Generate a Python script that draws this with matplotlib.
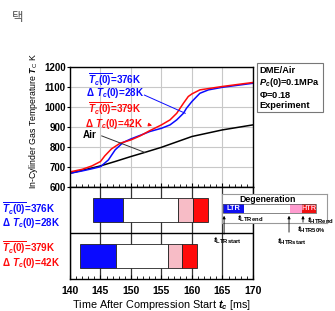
import matplotlib
matplotlib.use('Agg')
import matplotlib.pyplot as plt
from matplotlib.ticker import MultipleLocator

plt.rcParams['font.family'] = ['Liberation Sans', 'DejaVu Sans']
plt.rcParams['font.weight'] = 'bold'
plt.rcParams['mathtext.fontset'] = 'custom'
plt.rcParams['mathtext.rm'] = 'Liberation Sans:bold'
plt.rcParams['mathtext.it'] = 'Liberation Sans:italic:bold'
plt.rcParams['mathtext.bf'] = 'Liberation Sans:bold'

# in-cylinder temperature traces
time_blue = [140, 142, 143.5, 145, 146.3, 147.4, 148.7, 150, 151.7, 153.1, 155,
             156.4, 157.5, 158.6, 159.1, 160, 161.3, 162.7, 165, 170]
temp_blue = [668, 680, 690, 701, 735, 785, 822, 840, 860, 877, 893,
             910, 935, 968, 993, 1027, 1068, 1085, 1098, 1118]
time_red = [140, 142, 143.6, 145, 145.7, 146.8, 148.2, 150, 151.5, 153, 155,
            156.4, 157.5, 158.6, 159.4, 160, 161.3, 165, 170]
temp_red = [675, 688, 705, 727, 755, 790, 818, 835, 855, 880, 910,
            935, 968, 1018, 1052, 1065, 1085, 1102, 1122]
time_air = [140, 145, 147.4, 150, 152, 155, 160, 165, 170]
temp_air = [668, 705, 727, 752, 770, 798, 852, 885, 910]

# degeneration timings [ms]: upper row (376K), lower row (379K)
rows = [1.5, 0.5]
ltr_start = [143.8, 141.6]
ltr_end = [148.7, 147.5]
htr_start = [157.7, 156.0]
htr_50 = [160.2, 158.4]
htr_end = [162.6, 160.9]

c_blue = '#0a0aff'
c_red = '#ff0a0a'
c_pink = '#f7bcc6'

fig = plt.figure(figsize=(3.35, 3.11), dpi=100)
ax1 = fig.add_axes([0.209, 0.399, 0.546, 0.386])
ax2 = fig.add_axes([0.209, 0.103, 0.546, 0.296])

# --- top panel ---
ax1.plot(time_air, temp_air, color='black', lw=1.1)
ax1.plot(time_blue, temp_blue, color=c_blue, lw=1.1)
ax1.plot(time_red, temp_red, color=c_red, lw=1.1)
ax1.set_xlim(140, 170)
ax1.set_ylim(600, 1200)
ax1.xaxis.set_major_locator(MultipleLocator(5))
ax1.xaxis.set_minor_locator(MultipleLocator(1))
ax1.yaxis.set_major_locator(MultipleLocator(100))
ax1.grid(True, color='#c8c8c8', lw=0.8)
ax1.tick_params(axis='x', which='both', direction='in', labelbottom=False)
ax1.tick_params(axis='x', which='major', length=3)
ax1.tick_params(axis='x', which='minor', length=2)
ax1.tick_params(axis='y', length=2, labelsize=7, pad=1)
for s in ax1.spines.values():
    s.set_linewidth(1.0)

fs = 7.1
ax1.text(142.9, 1137, r'$\overline{T_c(0)}$=376K', color=c_blue, fontsize=fs,
         va='center')
ax1.text(142.6, 1067, r'$\Delta\ T_c(0)$=28K', color=c_blue, fontsize=fs,
         va='center')
ax1.plot([152.2, 158.9], [1059, 968], color=c_blue, lw=0.7)
ax1.text(142.9, 992, r'$\overline{T_c(0)}$=379K', color=c_red, fontsize=fs,
         va='center')
ax1.text(142.5, 915, r'$\Delta\ T_c(0)$=42K', color=c_red, fontsize=fs,
         va='center')
ax1.annotate('', xy=(153.9, 903), xytext=(152.4, 915),
             arrowprops=dict(arrowstyle='-|>', color=c_red, lw=0.7,
                             mutation_scale=5))
ax1.text(142.1, 858, 'Air', color='black', fontsize=fs, va='center')
ax1.plot([145.2, 152.3], [855, 772], color='#333333', lw=0.7)

ax1.text(1.035, 1.005, 'DME/Air\n$P_c(0)$=0.1MPa\n$\\mathit{\\Phi}$=0.18\nExperiment',
         transform=ax1.transAxes, fontsize=6.7, va='top', ha='left',
         linespacing=1.1,
         bbox=dict(boxstyle='square,pad=0.3', fc='white', ec='#777777', lw=0.8))

fig.text(0.099, 0.61, 'In-Cylinder Gas Temperature $\\mathregular{\\mathit{T}_C}$ K',
         rotation=90, ha='center', va='center', fontsize=6.3, fontweight='normal')

# --- bottom panel ---
for y, a, b, c, d, e in zip(rows, ltr_start, ltr_end, htr_start, htr_50, htr_end):
    ax2.barh(y, b - a, left=a, height=0.52, color=c_blue, edgecolor='#222222', lw=0.6)
    ax2.barh(y, c - b, left=b, height=0.52, color='white', edgecolor='#222222', lw=0.6)
    ax2.barh(y, d - c, left=c, height=0.52, color=c_pink, edgecolor='#222222', lw=0.6)
    ax2.barh(y, e - d, left=d, height=0.52, color=c_red, edgecolor='#222222', lw=0.6)
ax2.set_xlim(140, 170)
ax2.set_ylim(0, 2)
ax2.axhline(1, color='black', lw=1.0)
ax2.xaxis.set_major_locator(MultipleLocator(5))
ax2.xaxis.set_minor_locator(MultipleLocator(1))
ax2.grid(True, axis='x', color='#333333', lw=0.9)
ax2.set_axisbelow(True)
ax2.set_yticks([])
ax2.tick_params(axis='x', which='both', direction='in', labelsize=7.5, pad=5)
ax2.tick_params(axis='x', which='major', length=3)
ax2.tick_params(axis='x', which='minor', length=2)
for s in ax2.spines.values():
    s.set_linewidth(1.0)
ax2.set_xlabel('Time After Compression Start $t_c$ [ms]', fontsize=7.8, va='center')
ax2.xaxis.set_label_coords(0.5, -0.285)

fig.text(0.006, 0.330, r'$\overline{T_c(0)}$=376K', color=c_blue, fontsize=fs, va='center')
fig.text(0.006, 0.282, r'$\Delta\ T_c(0)$=28K', color=c_blue, fontsize=fs, va='center')
fig.text(0.006, 0.205, r'$\overline{T_c(0)}$=379K', color=c_red, fontsize=fs, va='center')
fig.text(0.006, 0.155, r'$\Delta\ T_c(0)$=42K', color=c_red, fontsize=fs, va='center')

# --- degeneration legend (schematic) ---
leg_edges = [1, 22, 68, 80, 94]
leg_colors = ['#1010f0', 'white', '#ff9ccf', '#ee1010']
lg = fig.add_axes([0.663, 0.283, 0.313, 0.093])
lg.set_xlim(0, 105)
lg.set_ylim(0, 29)
lg.set_xticks([])
lg.set_yticks([])
for s in lg.spines.values():
    s.set_edgecolor('#999999')
    s.set_linewidth(0.8)
for l, r, c in zip(leg_edges[:-1], leg_edges[1:], leg_colors):
    lg.barh(14.5, r - l, left=l, height=9, color=c, edgecolor='none')
lg.barh(14.5, leg_edges[-1] - leg_edges[0], left=leg_edges[0], height=9,
        color='none', edgecolor='#555555', lw=0.5)
lg.text(46, 23.5, 'Degeneration', fontsize=6.3, ha='center', va='center')
lg.text(11, 14.5, 'LTR', fontsize=5.3, color='white', ha='center', va='center')
lg.text(87, 14.5, 'HTR', fontsize=5.3, color='#ffd0e0', ha='center', va='center')

arr = dict(arrowstyle='-|>', color='black', lw=0.6, mutation_scale=4)
lg.annotate('', xy=(2, 10), xytext=(2, -14), arrowprops=arr, annotation_clip=False)
lg.annotate('', xy=(67, 10), xytext=(67, -12), arrowprops=arr, annotation_clip=False)
lg.annotate('', xy=(81, 10), xytext=(81, -2), arrowprops=arr, annotation_clip=False)
lab = dict(fontsize=6, ha='center', va='center', clip_on=False)
lg.text(5, -18, r'$t_{\mathrm{LTRstart}}$', **lab)
lg.text(28, 4.5, r'$t_{\mathrm{LTRend}}$', **lab)
lg.text(70, -19, r'$t_{\mathrm{HTRstart}}$', **lab)
lg.text(89, -7, r'$t_{\mathrm{HTR50\%}}$', **lab)
lg.text(98.5, 2, r'$t_{\mathrm{HTRend}}$', **lab)

fig.text(0.036, 0.945, '택', fontsize=9, color='#555555',
         family=['Noto Sans CJK KR', 'DejaVu Sans'], fontweight='normal',
         ha='left', va='center')

fig.savefig('out.png', dpi=100)
